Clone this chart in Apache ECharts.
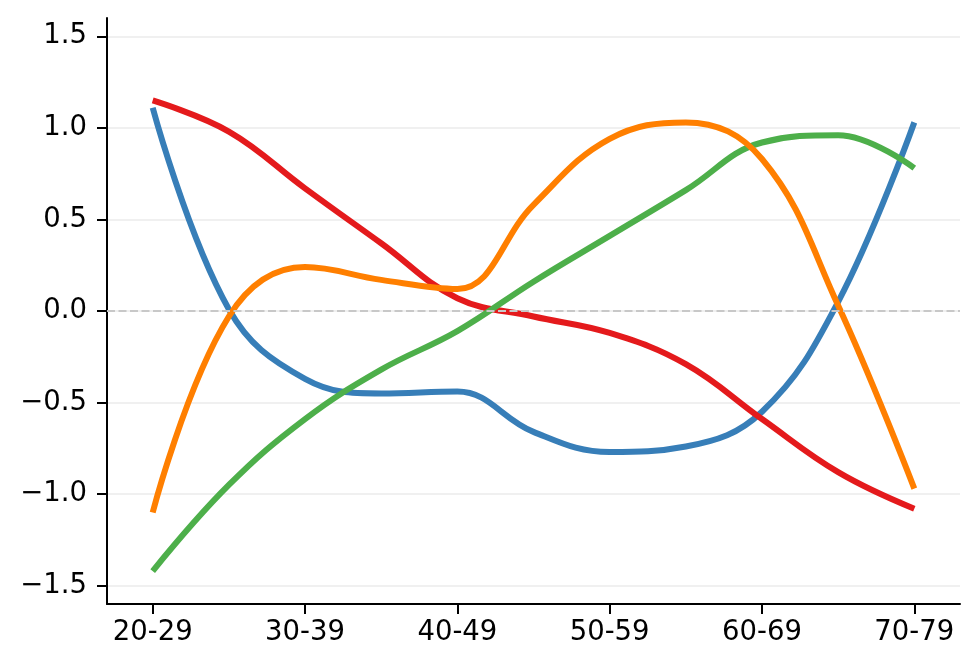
<!DOCTYPE html>
<html>
<head>
<meta charset="utf-8">
<script src="https://cdn.jsdelivr.net/npm/echarts@6/dist/echarts.min.js"></script>
<style>
  html, body { margin: 0; padding: 0; background: #fff; }
  #chart { width: 980px; height: 672px; }
</style>
</head>
<body>
<div id="chart"></div>
<script>
// age-group curves, values at every half step
const categories = ['20-29', '30-39', '40-49', '50-59', '60-69', '70-79'];
const xPositions = [0, 0.5, 1, 1.5, 2, 2.5, 3, 3.5, 4, 4.5, 5];
const blueValues = [1.11, 0.01, -0.37, -0.45, -0.44, -0.66, -0.77, -0.74, -0.55, 0.05, 1.03];
const redValues = [1.15, 0.98, 0.67, 0.37, 0.07, -0.03, -0.12, -0.29, -0.59, -0.88, -1.08];
const greenValues = [-1.42, -0.95, -0.59, -0.32, -0.11, 0.16, 0.41, 0.66, 0.92, 0.96, 0.78];
const orangeValues = [-1.10, -0.03, 0.24, 0.17, 0.12, 0.58, 0.94, 1.03, 0.83, 0.03, -0.97];
const yTicks = [-1.5, -1.0, -0.5, 0.0, 0.5, 1.0, 1.5];

const FONT = 'DejaVu Sans';
const xTicks = categories.map((c, i) => i);

const chart = echarts.init(document.getElementById('chart'));

function line(values, color) {
    return {
        type: 'line',
        smooth: 0.4,
        showSymbol: false,
        symbol: 'none',
        data: values.map((v, i) => [xPositions[i], v]),
        lineStyle: { color: color, width: 6 },
        itemStyle: { color: color },
        emphasis: { disabled: true },
    };
}

const option = {
    animation: false,
    backgroundColor: '#fff',
    grid: { left: 107, right: 20, top: 18, bottom: 68 },
    xAxis: {
        type: 'value',
        min: -0.3,
        max: 5.3,
        axisLine: { show: true, onZero: false, lineStyle: { color: '#000', width: 2 } },
        axisTick: { show: true, length: 10, customValues: xTicks, lineStyle: { color: '#000', width: 2 } },
        axisLabel: {
            customValues: xTicks,
            margin: 15,
            fontFamily: FONT,
            fontSize: 27.5,
            color: '#000',
            formatter: (v) => categories[Math.round(v)],
        },
        splitLine: { show: false },
    },
    yAxis: {
        type: 'value',
        min: -1.6,
        max: 1.6,
        axisLine: { show: true, onZero: false, lineStyle: { color: '#000', width: 2 } },
        axisTick: { show: true, length: 10, customValues: yTicks, lineStyle: { color: '#000', width: 2 } },
        axisLabel: {
            customValues: yTicks,
            margin: 20,
            fontFamily: FONT,
            fontSize: 27.5,
            color: '#000',
            formatter: (v) => v.toFixed(1).replace('-', '\u2212'),
        },
        splitLine: { show: true, lineStyle: { color: '#f0f0f0', width: 2 } },
    },
    series: [
        line(blueValues, '#377eb8'),
        line(redValues, '#e41a1c'),
        line(greenValues, '#4daf4a'),
        line(orangeValues, '#ff7f00'),
        {
            // dashed zero line sits above the curves
            type: 'line',
            data: [],
            z: 10,
            markLine: {
                silent: true,
                symbol: 'none',
                label: { show: false },
                lineStyle: { color: '#c8c8c8', type: [8, 3.5], width: 1.8 },
                data: [{ yAxis: 0 }],
            },
        },
    ],
};

chart.setOption(option);
</script>
</body>
</html>
